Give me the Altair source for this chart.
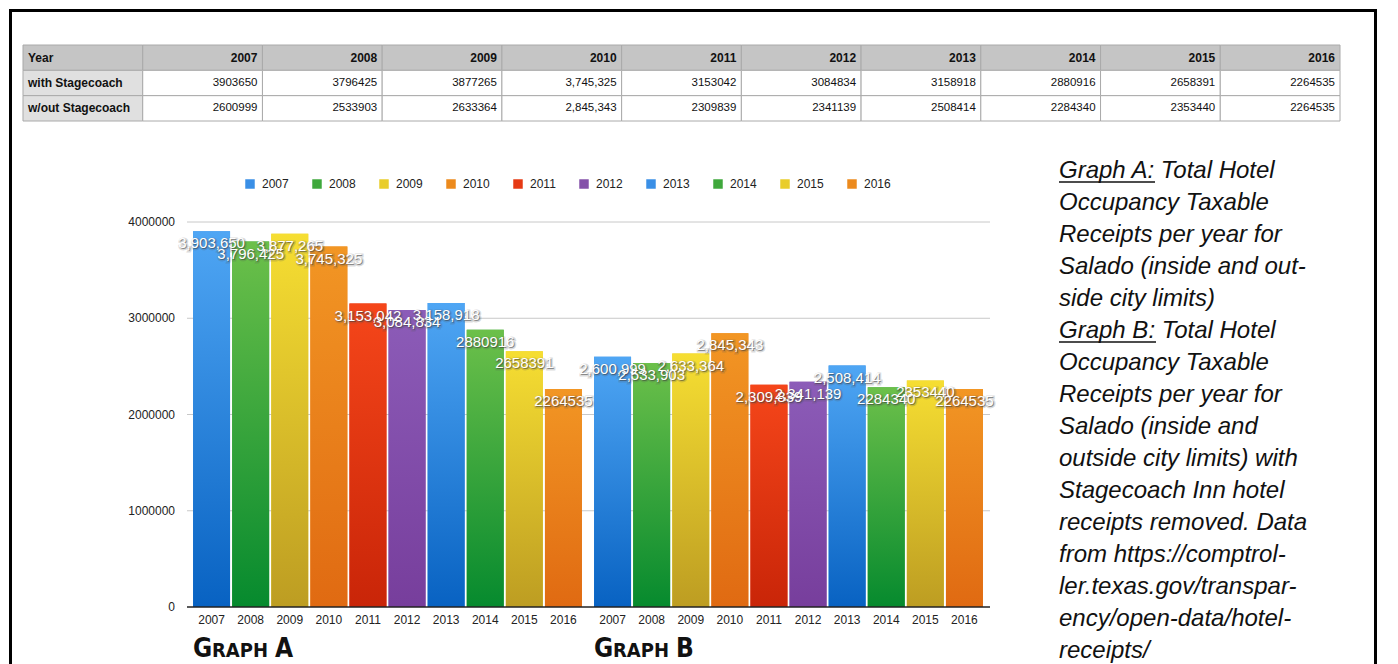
import altair as alt
import pandas as pd

# ---------------- data ----------------
years = ["2007", "2008", "2009", "2010", "2011", "2012", "2013", "2014", "2015", "2016"]
with_stagecoach = [3903650, 3796425, 3877265, 3745325, 3153042, 3084834, 3158918, 2880916, 2658391, 2264535]
without_stagecoach = [2600999, 2533903, 2633364, 2845343, 2309839, 2341139, 2508414, 2284340, 2353440, 2264535]
graphs = ["A", "B"]
graph_titles = ["A", "B"]
year_color_group = [0, 1, 2, 3, 4, 5, 0, 1, 2, 3]
plain_label_years = ["2014", "2015", "2016"]
table_row_labels = ["Year", "with Stagecoach", "w/out Stagecoach"]
table_comma_years = ["2010"]
y_ticks = [0, 1000000, 2000000, 3000000, 4000000]
note_lines = [
    "Graph A: Total Hotel",
    "Occupancy Taxable",
    "Receipts per year for",
    "Salado (inside and out-",
    "side city limits)",
    "Graph B: Total Hotel",
    "Occupancy Taxable",
    "Receipts per year for",
    "Salado (inside and",
    "outside city limits) with",
    "Stagecoach Inn hotel",
    "receipts removed. Data",
    "from https://comptrol-",
    "ler.texas.gov/transpar-",
    "ency/open-data/hotel-",
    "receipts/",
]

# ---------------- styles ----------------
group_solid = ["#3a8fe6", "#3fa83c", "#e9cd2b", "#ec8a1d", "#e63a14", "#8450a9"]
group_top = ["#4fa6f4", "#6cc04a", "#f6de32", "#f29624", "#f5461a", "#8c5cb8"]
group_bottom = ["#0862c2", "#068a2e", "#bd9d22", "#e06a12", "#c92508", "#773e9c"]
FONT = "Liberation Sans"
TITLE_FONT = "DejaVu Sans Condensed, Liberation Sans Narrow, sans-serif"

# ---------------- tables ----------------
bar_rows = []
for g in graphs:
    vals = with_stagecoach if g == "A" else without_stagecoach
    for i, yr in enumerate(years):
        v = vals[i]
        lab = str(v) if yr in plain_label_years else f"{v:,}"
        bar_rows.append({"graph": g, "year": yr, "value": v, "cg": year_color_group[i], "label": lab})
bars_df = pd.DataFrame(bar_rows)

tick_df = pd.DataFrame({"tick": y_ticks, "tick_label": [str(t) for t in y_ticks]})
title_df = pd.DataFrame({"graph": graphs, "big2": graph_titles, "big1": ["G", "G"], "small": ["RAPH", "RAPH"]})

cells = []
for r, rlabel in enumerate(table_row_labels):
    for c in ["label"] + years:
        if c == "label":
            txt = rlabel
        elif r == 0:
            txt = c
        else:
            v = (with_stagecoach if r == 1 else without_stagecoach)[years.index(c)]
            txt = f"{v:,}" if c in table_comma_years else str(v)
        if r == 0:
            kind, fill = "header", "#c5c5c5"
        elif c == "label":
            kind, fill = "label", "#e0e0e0"
        else:
            kind, fill = "value", "#ffffff"
        cells.append({"row": rlabel, "col": c, "text": txt, "kind": kind, "fill": fill})
table_df = pd.DataFrame(cells)
one = pd.DataFrame({"k": [0]})

# ---------------- scales ----------------
X_SCALE = alt.Scale(domain=graphs, range=[179, 981], paddingInner=0, paddingOuter=0)
XO_SCALE = alt.Scale(domain=years, paddingInner=0.054, paddingOuter=0.155)
Y_SCALE = alt.Scale(domain=[0, 4000000], range=[599, 214], nice=False, zero=True)
TX = alt.Scale(domain=["label"] + years, range=[15, 1332], paddingInner=0, paddingOuter=0)
TY = alt.Scale(domain=table_row_labels, range=[37, 113], paddingInner=0, paddingOuter=0)

X = alt.X("graph:N", scale=X_SCALE, axis=None)
XO = alt.XOffset("year:N", scale=XO_SCALE)
Y = alt.Y("value:Q", scale=Y_SCALE, axis=None)

# ---------------- bars ----------------
base_bars = alt.Chart(bars_df).mark_bar().encode(
    x=X, xOffset=XO, y=Y,
    color=alt.Color(
        "year:N",
        scale=alt.Scale(domain=years, range=[group_solid[c] for c in year_color_group]),
        legend=alt.Legend(
            title=None, orient="none", legendX=236, legendY=170, direction="horizontal",
            columns=10, symbolType="square", symbolSize=90, symbolStrokeWidth=0,
            labelFont=FONT, labelFontSize=12, labelColor="#222", columnPadding=22,
            labelOffset=6, padding=0,
        ),
    ),
)

grad_layers = []
for c in range(6):
    grad_layers.append(
        alt.Chart(bars_df).transform_filter(alt.datum.cg == c).mark_bar(
            color=alt.Gradient(
                gradient="linear",
                stops=[alt.GradientStop(color=group_top[c], offset=0),
                       alt.GradientStop(color=group_bottom[c], offset=1)],
                x1=0, x2=0, y1=0, y2=1,
            )
        ).encode(x=X, xOffset=XO, y=Y)
    )

grid = alt.Chart(tick_df).transform_filter(alt.datum.tick > 0).mark_rule(color="#c8c8c8", strokeWidth=1).encode(
    y=alt.Y("tick:Q", scale=Y_SCALE, axis=None), x=alt.value(179), x2=alt.value(982)
)
zero_line = alt.Chart(tick_df).transform_filter(alt.datum.tick == 0).mark_rule(color="#222", strokeWidth=1.3).encode(
    y=alt.Y("tick:Q", scale=Y_SCALE, axis=None), x=alt.value(179), x2=alt.value(982)
)
ytick_text = alt.Chart(tick_df).mark_text(align="right", baseline="middle", font=FONT, fontSize=12, color="#222").encode(
    y=alt.Y("tick:Q", scale=Y_SCALE, axis=None), x=alt.value(167), text="tick_label:N"
)
year_text = alt.Chart(bars_df).mark_text(baseline="middle", font=FONT, fontSize=12, color="#222", dy=13).encode(
    x=X, xOffset=XO, y=alt.Y(datum=0, scale=Y_SCALE, axis=None), text="year:N"
)

XT = alt.X("graph:N", scale=X_SCALE, axis=None, bandPosition=0)
YT = alt.Y(datum=0, scale=Y_SCALE, axis=None)
title_g = alt.Chart(title_df).mark_text(align="left", baseline="alphabetic", font=TITLE_FONT, fontWeight="bold",
                                        fontSize=26, color="#111", dx=6, dy=50).encode(x=XT, y=YT, text="big1:N")
title_s = alt.Chart(title_df).mark_text(align="left", baseline="alphabetic", font=TITLE_FONT, fontWeight="bold",
                                        fontSize=20, color="#111", dx=25, dy=50).encode(x=XT, y=YT, text="small:N")
title_l = alt.Chart(title_df).mark_text(align="left", baseline="alphabetic", font=TITLE_FONT, fontWeight="bold",
                                        fontSize=26, color="#111", dx=88, dy=50).encode(x=XT, y=YT, text="big2:N")

shadow = alt.Chart(bars_df).mark_text(baseline="middle", font=FONT, fontSize=15, color="#333", opacity=0.6,
                                      stroke="#555", strokeWidth=3, strokeOpacity=0.35, dx=1, dy=13).encode(
    x=X, xOffset=XO, y=Y, text="label:N")
white = alt.Chart(bars_df).mark_text(baseline="middle", font=FONT, fontSize=15, color="white", dy=12).encode(
    x=X, xOffset=XO, y=Y, text="label:N")

bars = alt.layer(grid, base_bars, *grad_layers, zero_line, ytick_text, year_text,
                 title_g, title_s, title_l, shadow, white)

# ---------------- table ----------------
TXE = alt.X("col:N", scale=TX, axis=None)
TYE = alt.Y("row:N", scale=TY, axis=None)
t_cells = alt.Chart(table_df).mark_rect(stroke="#aaaaaa", strokeWidth=1).encode(
    x=TXE, y=TYE, fill=alt.Fill("fill:N", scale=None))
t_label = alt.Chart(table_df).transform_filter(alt.datum.col == "label").mark_text(
    align="left", baseline="middle", font=FONT, fontSize=12, fontWeight="bold", color="#111", dx=5).encode(
    x=alt.X("col:N", scale=TX, axis=None, bandPosition=0), y=TYE, text="text:N")
t_head = alt.Chart(table_df).transform_filter((alt.datum.col != "label") & (alt.datum.kind == "header")).mark_text(
    align="right", baseline="middle", font=FONT, fontSize=12, fontWeight="bold", color="#111", dx=-5).encode(
    x=alt.X("col:N", scale=TX, axis=None, bandPosition=1), y=TYE, text="text:N")
t_vals = alt.Chart(table_df).transform_filter(alt.datum.kind == "value").mark_text(
    align="right", baseline="middle", font=FONT, fontSize=11.5, color="#111", dx=-5).encode(
    x=alt.X("col:N", scale=TX, axis=None, bandPosition=1), y=TYE, text="text:N")
table = alt.layer(t_cells, t_label, t_head, t_vals)

# ---------------- notes & frame ----------------
notes = alt.Chart(one).mark_text(align="left", baseline="alphabetic", font=FONT, fontStyle="italic",
                                 fontSize=24, lineHeight=32, color="#111").encode(
    x=alt.value(1051), y=alt.value(170), text=alt.value(note_lines))
ul_a = alt.Chart(one).mark_rule(color="#111", strokeWidth=1.3).encode(x=alt.value(1051), x2=alt.value(1147), y=alt.value(174))
ul_b = alt.Chart(one).mark_rule(color="#111", strokeWidth=1.3).encode(x=alt.value(1051), x2=alt.value(1148), y=alt.value(334))
f_left = alt.Chart(one).mark_rule(color="black", strokeWidth=3).encode(x=alt.value(2.5), y=alt.value(1), y2=alt.value(700))
f_top = alt.Chart(one).mark_rule(color="black", strokeWidth=3).encode(y=alt.value(2.5), x=alt.value(1), x2=alt.value(1369))
f_right = alt.Chart(one).mark_rule(color="black", strokeWidth=3).encode(x=alt.value(1367.5), y=alt.value(1), y2=alt.value(700))

chart = alt.layer(f_left, f_top, f_right, table, bars, notes, ul_a, ul_b).resolve_scale(
    x="independent", y="independent"
).properties(
    width=1382, height=656, padding=0, autosize=alt.AutoSizeParams(type="none"), background="white"
).configure_view(stroke=None)

chart.save("out.html", embed_options={"renderer": "svg", "actions": False})
